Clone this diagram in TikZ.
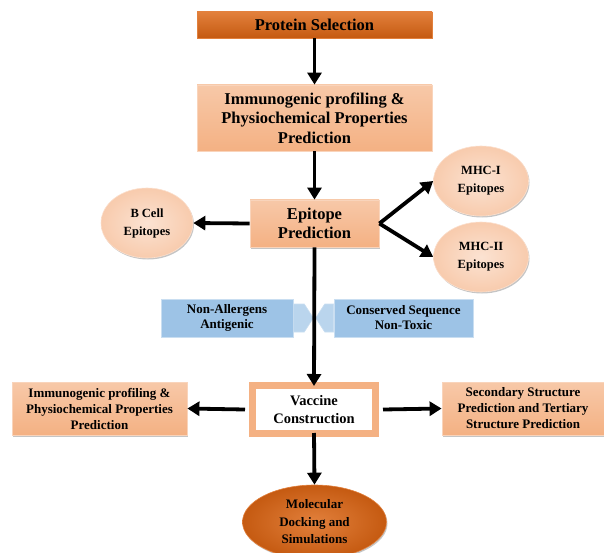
\documentclass[tikz,border=0pt]{standalone}
\usepackage{fontspec}
\setmainfont{Liberation Serif}
\usetikzlibrary{arrows.meta,shadows,shapes.geometric}
\definecolor{rust}{RGB}{197,90,17}
\definecolor{rustlt}{RGB}{226,128,60}
\definecolor{salmon}{RGB}{244,177,131}
\definecolor{peach}{RGB}{248,203,173}
\definecolor{skyblue}{RGB}{157,195,230}
\begin{document}
\begin{tikzpicture}[x=1pt, y=-1pt,
  dshadow/.style={drop shadow={shadow xshift=1pt, shadow yshift=-1.5pt, fill=black!45, opacity=.5}},
  box/.style={rectangle, draw=salmon!55!white, line width=0.8pt, top color=salmon!70!white,
              bottom color=salmon, dshadow, align=center, inner sep=0pt},
  topbox/.style={box, draw=rustlt, top color=rustlt, bottom color=rust},
  epi/.style={ellipse, draw=peach!60!white, line width=0.6pt, inner color=peach!55!white,
              outer color=peach, dshadow, align=center, inner sep=0pt,
              font=\fontsize{12.5}{18}\selectfont\bfseries},
  filter/.style={rectangle, draw=skyblue!55!white, line width=0.6pt, fill=skyblue,
                 align=center, inner sep=0pt, font=\fontsize{13}{15}\selectfont\bfseries},
  tip/.style={fill=skyblue!70!white, draw=skyblue!55!white, line width=0.6pt},
  big/.style={font=\fontsize{16.5}{19.5}\selectfont\bfseries},
  small/.style={font=\fontsize{13}{16}\selectfont\bfseries},
  arr/.style={-{Triangle[width=14pt,length=12pt]}, line width=3.8pt, black}
]
  \useasboundingbox (0,0) rectangle (604,553);

  % Main column
  \node[topbox, big, minimum width=235pt, minimum height=26pt] (prot) at (314.5,25) {Protein Selection};
  \node[box, big, minimum width=235pt, minimum height=66pt] (immuno) at (314.5,118)
    {Immunogenic profiling \&\\Physiochemical Properties\\Prediction};
  \node[box, font=\fontsize{16.5}{18.5}\selectfont\bfseries, minimum width=129pt, minimum height=47pt]
    (pred) at (314.5,223.5) {Epitope\\Prediction};

  % Epitope types
  \node[epi, minimum width=92pt, minimum height=70pt] (bcell) at (147,223) {B Cell\\Epitopes};
  \node[epi, minimum width=95pt, minimum height=70pt] (mhc1) at (481,181) {MHC-I\\Epitopes};
  \node[epi, minimum width=95pt, minimum height=70pt] (mhc2) at (481,257) {MHC-II\\Epitopes};

  % Filters
  \node[filter, minimum width=132pt, minimum height=38pt] (nonall) at (227,318) {Non-Allergens\\Antigenic};
  \node[filter, minimum width=139pt, minimum height=38pt] (cons) at (403.5,318) {Conserved Sequence\\Non-Toxic};
  \draw[tip] (nonall.east) ++(0,-14) -- ++(11,0) -- ++(9,14) -- ++(-9,14) -- ++(-11,0) -- cycle;
  \draw[tip] (cons.west) ++(0,-14) -- ++(-9,0) -- ++(-9,14) -- ++(9,14) -- ++(9,0) -- cycle;

  % Vaccine and follow-up
  \node[rectangle, draw=salmon, line width=7pt, fill=white, dshadow, align=center, inner sep=0pt,
        font=\fontsize{14.5}{18}\selectfont\bfseries, minimum width=123pt, minimum height=48pt]
    (vac) at (314,409.5) {Vaccine\\Construction};
  \node[box, small, minimum width=175pt, minimum height=53pt] (immuno2) at (99.5,408.5)
    {Immunogenic profiling \&\\Physiochemical Properties\\Prediction};
  \node[box, small, minimum width=162pt, minimum height=53pt] (struct) at (523,408.5)
    {Secondary Structure\\Prediction and Tertiary\\Structure Prediction};
  \node[ellipse, draw=rustlt, line width=0.6pt, inner color=rustlt, outer color=rust, dshadow,
        align=center, inner sep=0pt, font=\fontsize{13}{17.5}\selectfont\bfseries,
        minimum width=144pt, minimum height=74pt] (molec) at (314.5,522)
    {Molecular\\Docking and\\Simulations};

  % Connectors
  \draw[arr] (prot) -- (immuno);
  \draw[arr] (immuno) -- (pred);
  \draw[arr] (pred.west) -- (bcell.east);
  \draw[arr] (pred.east) -- (mhc1.west);
  \draw[arr] (pred.east) -- (mhc2.west);
  \draw[arr] (pred.south) -- ([yshift=-4pt]vac.north);
  \draw[arr] ([xshift=-4pt]vac.west) -- (immuno2.east);
  \draw[arr] ([xshift=4pt]vac.east) -- (struct.west);
  \draw[arr] ([yshift=4pt]vac.south) -- (molec.north);
\end{tikzpicture}
\end{document}
